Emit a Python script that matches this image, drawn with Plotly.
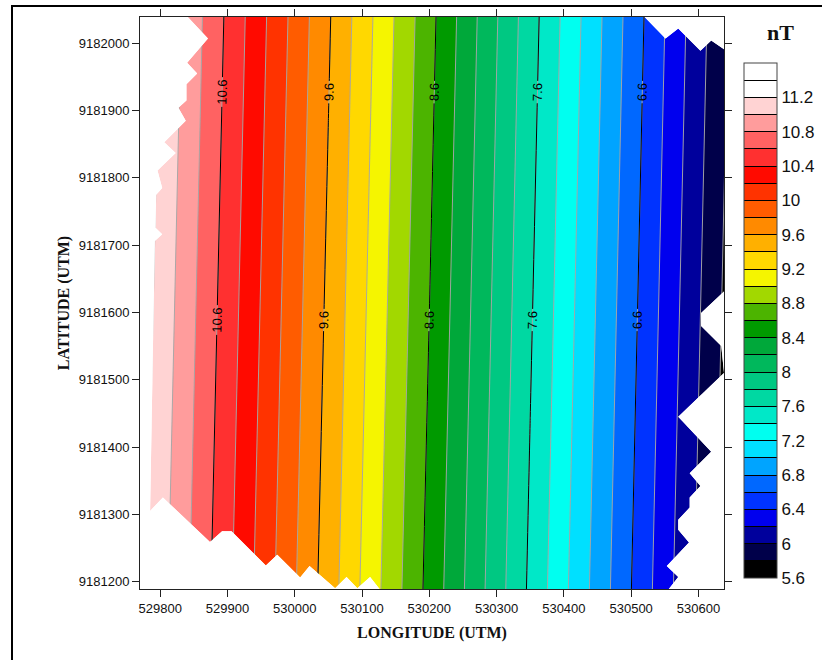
import plotly.graph_objects as go

# ---------------- data ----------------
# grid of total-field values (nT); rows = northing, columns = easting
x_cols = [529750, 529900, 530050, 530200, 530350, 530500, 530650]
y_rows = [9181185, 9182045]
z_grid = [
    [11.390, 10.445, 9.499, 8.539, 7.563, 6.602, 5.640],   # southern row
    [11.511, 10.567, 9.623, 8.666, 7.686, 6.723, 5.762],   # northern row
]

# survey outline (UTM metres), clockwise from the north-west corner
boundary_x = [529841, 530520, 530551, 530570, 530603, 530619, 530638, 530638,
              530604, 530604, 530634, 530638, 530570, 530619, 530587, 530603,
              530587, 530587, 530570, 530570, 530586, 530553, 530570, 530556,
              530126, 530112, 530093, 530077, 530060, 530022, 530008, 529974,
              529957, 529906, 529892, 529874, 529804, 529785, 529792, 529803,
              529793, 529794, 529803, 529796, 529823, 529806, 529838, 529827,
              529839, 529839, 529855, 529840, 529871]
boundary_y = [9182039, 9182039, 9182007, 9182022, 9181989, 9182004, 9181991, 9181631,
              9181599, 9181580, 9181550, 9181510, 9181445, 9181393, 9181361, 9181342,
              9181325, 9181310, 9181292, 9181277, 9181258, 9181223, 9181207, 9181189,
              9181189, 9181207, 9181190, 9181207, 9181190, 9181223, 9181206, 9181240,
              9181224, 9181275, 9181275, 9181259, 9181325, 9181305, 9181706, 9181716,
              9181726, 9181775, 9181785, 9181811, 9181837, 9181853, 9181885, 9181904,
              9181915, 9181939, 9181955, 9181971, 9182007]

level_start, level_end, level_step = 5.8, 11.4, 0.2
major_start, major_end, major_step = 6.6, 10.6, 1.0

band_colors = [
    "#000000", "#00004a", "#00009c", "#0000ee", "#0033ff", "#0068ff",
    "#00a4ff", "#00e0ff", "#00fff0", "#00e8c8", "#00d8a2", "#00c882",
    "#00b85c", "#00a83a", "#009a00", "#4cb400", "#a2d800", "#f5f500",
    "#ffd800", "#ffb000", "#ff8a00", "#ff5c00", "#ff3300", "#ff0a00",
    "#ff3030", "#ff6262", "#ff9c9c", "#ffd3d3", "#ffffff", "#ffffff",
]
cbar_min, cbar_max = 5.6, 11.6
cbar_tickvals = [5.6, 5.8, 6.0, 6.2, 6.4, 6.6, 6.8, 7.0, 7.2, 7.4, 7.6, 7.8, 8.0,
                 8.2, 8.4, 8.6, 8.8, 9.0, 9.2, 9.4, 9.6, 9.8, 10.0, 10.2, 10.4,
                 10.6, 10.8, 11.0, 11.2, 11.4, 11.6]
cbar_ticktext = ["5.6", "", "6", "", "6.4", "", "6.8", "", "7.2", "", "7.6", "", "8",
                 "", "8.4", "", "8.8", "", "9.2", "", "9.6", "", "10", "", "10.4",
                 "", "10.8", "", "11.2", "", ""]

x_range = [529770, 530638]
y_range = [9181189, 9182039]
x_ticks = [529800, 529900, 530000, 530100, 530200, 530300, 530400, 530500, 530600]
y_ticks = [9181200, 9181300, 9181400, 9181500, 9181600, 9181700, 9181800, 9181900, 9182000]

# ---------------- layout geometry (pixels) ----------------
W, H = 822, 660
PL, PR, PT, PB = 140, 724, 17, 589          # plot area edges
# horizontal strips used to place the contour labels (top -> bottom), True = labelled strip
strips = [(17, 167, True), (167, 245, False), (245, 395, True), (395, 589, False)]

def frac(py):
    return (PB - py) / (PB - PT)

# ---------------- build figure ----------------
n = len(band_colors)
fill_scale = [[k / (n - 1), c] for k, c in enumerate(band_colors)]
step_scale = []
for k, c in enumerate(band_colors):
    step_scale.append([k / n, c])
    step_scale.append([(k + 1) / n, c])

# white mask outside the survey outline (outer rectangle with the outline as a hole)
ox0, ox1 = x_range[0] - 10, x_range[1] + 12
oy0, oy1 = y_range[0] - 10, y_range[1] + 12
i0 = boundary_y.index(min(boundary_y))
bx0 = boundary_x[i0]
ring_x = boundary_x[i0:] + boundary_x[:i0] + [boundary_x[i0]]
ring_y = boundary_y[i0:] + boundary_y[:i0] + [boundary_y[i0]]
mask_x = [bx0, ox1, ox1, ox0, ox0, bx0] + ring_x + [bx0]
mask_y = [oy0, oy0, oy1, oy1, oy0, oy0] + ring_y + [oy0]

fig = go.Figure()

fig.add_trace(go.Contour(
    x=x_cols, y=y_rows, z=z_grid,
    autocontour=False,
    contours=dict(start=level_start, end=level_end, size=level_step,
                  coloring="fill", showlines=True),
    colorscale=fill_scale,
    line=dict(color="rgba(165,165,165,0.95)", width=1, smoothing=0),
    showscale=False, hoverinfo="skip",
))
fig.add_trace(go.Scatter(
    x=mask_x, y=mask_y, mode="lines", fill="toself", fillcolor="white",
    line=dict(width=0, color="white"), hoverinfo="skip", showlegend=False,
))

layout_extra = {}
span = y_range[1] - y_range[0]
for i, (top_px, bot_px, labelled) in enumerate(strips):
    ax_id = i + 3
    d0, d1 = frac(bot_px), frac(top_px)
    layout_extra[f"yaxis{ax_id}"] = dict(
        domain=[d0, d1], range=[y_range[0] + d0 * span, y_range[0] + d1 * span],
        anchor="x", visible=False, fixedrange=True)
    fig.add_trace(go.Contour(
        x=x_cols, y=y_rows, z=z_grid, yaxis=f"y{ax_id}",
        autocontour=False,
        contours=dict(start=major_start, end=major_end, size=major_step,
                      coloring="none", showlines=True, showlabels=labelled,
                      labelfont=dict(family="Liberation Sans, Arial", size=13, color="black")),
        line=dict(color="black", width=1, smoothing=0),
        showscale=False, hoverinfo="skip",
    ))
    fig.add_trace(go.Scatter(
        x=mask_x, y=mask_y, yaxis=f"y{ax_id}", mode="lines", fill="toself",
        fillcolor="white", line=dict(width=0, color="white"),
        hoverinfo="skip", showlegend=False,
    ))

# colour bar (carried by an off-screen heatmap)
fig.add_trace(go.Heatmap(
    x=[0, 1], y=[0], z=[[cbar_min, cbar_max]], zmin=cbar_min, zmax=cbar_max,
    colorscale=step_scale, xaxis="x2", yaxis="y2", hoverinfo="skip",
    colorbar=dict(
        x=(744 - PL) / (PR - PL), xanchor="left", xpad=0,
        y=frac(578), yanchor="bottom", ypad=0,
        lenmode="pixels", len=515, thicknessmode="pixels", thickness=33,
        outlinecolor="#444", outlinewidth=1,
        tickmode="array", tickvals=cbar_tickvals, ticktext=cbar_ticktext,
        ticks="inside", ticklen=33, tickcolor="black", tickwidth=1,
        tickfont=dict(family="Liberation Sans, Arial", size=17, color="#111"),
    ),
))

axis_font = dict(family="Liberation Sans, Arial", size=13, color="#111")
title_font = dict(family="Liberation Serif, Times New Roman", size=16, color="#111")

fig.update_layout(
    template="none",
    width=W, height=H,
    margin=dict(l=PL, r=W - PR, t=PT, b=H - PB, autoexpand=False),
    paper_bgcolor="white", plot_bgcolor="rgba(0,0,0,0)",
    showlegend=False,
    xaxis=dict(range=x_range, tickmode="array", tickvals=x_ticks, tickformat="d",
               ticks="outside", ticklen=7, tickwidth=1, tickcolor="#222",
               showline=True, linecolor="#222", linewidth=1, mirror="ticks",
               showgrid=False, zeroline=False, tickfont=axis_font, anchor="y",
               title=dict(text="<b>LONGITUDE (UTM)</b>", font=title_font, standoff=12)),
    yaxis=dict(range=y_range, tickmode="array", tickvals=y_ticks, tickformat="d",
               ticks="outside", ticklen=7, tickwidth=1, tickcolor="#222",
               showline=True, linecolor="#222", linewidth=1, mirror="ticks",
               showgrid=False, zeroline=False, tickfont=axis_font, domain=[0, 1],
               title=dict(text="<b>LATITUDE (UTM)</b>", font=title_font, standoff=5)),
    xaxis2=dict(range=[10, 11], overlaying="x", visible=False),
    yaxis2=dict(range=[10, 11], overlaying="y", visible=False),
    annotations=[dict(text="<b>nT</b>", xref="paper", yref="paper",
                      x=(781 - PL) / (PR - PL), y=frac(32),
                      xanchor="center", yanchor="middle", showarrow=False,
                      font=dict(family="Liberation Serif, Times New Roman", size=22, color="#111"))],
    shapes=[dict(type="rect", xref="paper", yref="paper",
                 x0=(12 - PL) / (PR - PL), x1=(850 - PL) / (PR - PL),
                 y0=frac(690), y1=frac(6),
                 line=dict(color="black", width=2), fillcolor="rgba(0,0,0,0)")],
    **layout_extra,
)

fig.write_html("out.html", config={"displayModeBar": False},
               post_script="document.body.style.margin='0';")
